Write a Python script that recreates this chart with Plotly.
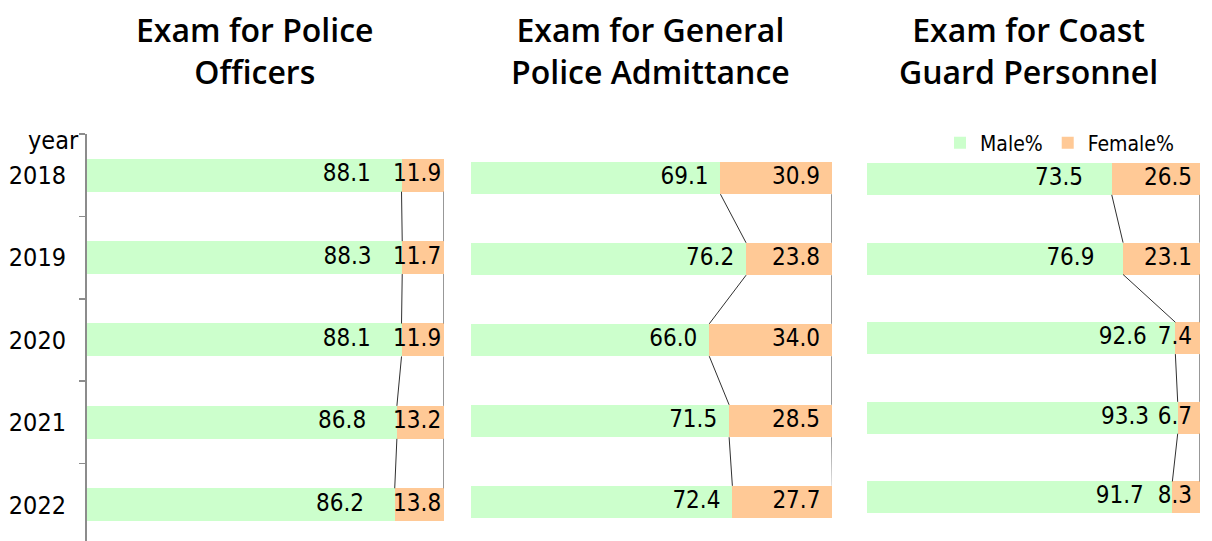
import plotly.graph_objects as go

years = ["2018", "2019", "2020", "2021", "2022"]
panel_titles = ["Exam for Police<br>Officers",
                "Exam for General<br>Police Admittance",
                "Exam for Coast<br>Guard Personnel"]
police_male = [88.1, 88.3, 88.1, 86.8, 86.2]
police_female = [11.9, 11.7, 11.9, 13.2, 13.8]
general_male = [69.1, 76.2, 66.0, 71.5, 72.4]
general_female = [30.9, 23.8, 34.0, 28.5, 27.7]
coast_male = [73.5, 76.9, 92.6, 93.3, 91.7]
coast_female = [26.5, 23.1, 7.4, 6.7, 8.3]

GREEN = "#CCFFCC"
ORANGE = "#FFC996"
LFONT = "Liberation Sans Narrow, Noto Sans Condensed, DejaVu Sans Condensed, sans-serif"
TFONT = "Open Sans, Noto Sans, sans-serif"
W, H = 1212, 541

panels = [
    dict(male=police_male, female=police_female, xdom=[87 / W, 444 / W],
         yrange=[4.44, -0.5], moff=8.6, foff=0.8, tx=255 / W),
    dict(male=general_male, female=general_female, xdom=[471 / W, 832 / W],
         yrange=[4.481, -0.543], moff=3.3, foff=3.3, tx=650 / W),
    dict(male=coast_male, female=coast_female, xdom=[867 / W, 1200 / W],
         yrange=[4.548, -0.565], moff=8.6, foff=2.4, tx=1028 / W),
]

ypos = list(range(len(years)))
BW = 0.4
fig = go.Figure()
layout_axes = {}
for k, p in enumerate(panels):
    sfx = "" if k == 0 else str(k + 1)
    xa, ya = "x" + sfx, "y" + sfx
    fig.add_trace(go.Bar(
        y=ypos, x=p["male"], orientation="h", name="Male%", marker_color=GREEN,
        marker_line_width=0, width=BW, xaxis=xa, yaxis=ya,
        showlegend=(k == 2), legendrank=1, hoverinfo="skip"))
    fig.add_trace(go.Bar(
        y=ypos, x=p["female"], orientation="h", name="Female%", marker_color=ORANGE,
        marker_line_width=0, width=BW, xaxis=xa, yaxis=ya,
        showlegend=(k == 2), legendrank=2, hoverinfo="skip"))
    totals = [m + f for m, f in zip(p["male"], p["female"])]
    # series connector lines
    lx, ly = [], []
    for i in range(len(years) - 1):
        lx += [p["male"][i], p["male"][i + 1], None, totals[i], totals[i + 1], None]
        ly += [i + BW / 2, i + 1 - BW / 2, None, i + BW / 2, i + 1 - BW / 2, None]
    fig.add_trace(go.Scatter(x=lx, y=ly, mode="lines", xaxis=xa, yaxis=ya,
                             line=dict(color="#303030", width=1), showlegend=False,
                             hoverinfo="skip"))
    # data labels (inside end of each segment)
    fig.add_trace(go.Scatter(
        x=[m - p["moff"] for m in p["male"]], y=ypos, mode="text",
        text=[f"{m:.1f}" for m in p["male"]], textposition="middle left",
        textfont=dict(family=LFONT, size=24, color="black"), xaxis=xa, yaxis=ya,
        showlegend=False, hoverinfo="skip", cliponaxis=False))
    fig.add_trace(go.Scatter(
        x=[t - p["foff"] for t in totals], y=ypos, mode="text",
        text=[f"{f:.1f}" for f in p["female"]], textposition="middle left",
        textfont=dict(family=LFONT, size=24, color="black"), xaxis=xa, yaxis=ya,
        showlegend=False, hoverinfo="skip", cliponaxis=False))
    layout_axes["xaxis" + sfx] = dict(domain=p["xdom"], range=[0, 100], visible=False,
                                      anchor=ya, fixedrange=True)
    yax = dict(domain=[0, (H - 134) / H], range=p["yrange"], anchor=xa,
               showgrid=False, zeroline=False, fixedrange=True)
    if k == 0:
        yax.update(tickvals=ypos, ticktext=years, ticks="", showline=True,
                   linecolor="#8c8c8c", linewidth=2,
                   tickfont=dict(family=LFONT, size=25, color="black"),
                   ticklabelstandoff=14,
                   minor=dict(tickvals=[-0.5, 0.5, 1.5, 2.5, 3.5, 4.5], ticks="outside",
                              ticklen=6, tickwidth=1.5, tickcolor="#8c8c8c",
                              showgrid=False))
    else:
        yax.update(visible=False)
    layout_axes["yaxis" + sfx] = yax

annotations = [dict(text=t, x=p["tx"], y=1 - 50 / H, xref="paper", yref="paper",
                    xanchor="center", yanchor="middle", showarrow=False,
                    font=dict(family=TFONT, size=32, color="black", weight=600))
               for t, p in zip(panel_titles, panels)]
annotations.append(dict(text="year", x=81 / W, y=1 - 141 / H, xref="paper",
                        yref="paper", xanchor="right", yanchor="middle", showarrow=False,
                        font=dict(family=LFONT, size=25, color="black")))

fig.update_layout(
    width=W, height=H, margin=dict(l=0, r=0, t=0, b=0),
    paper_bgcolor="white", plot_bgcolor="white", barmode="stack", bargap=0,
    legend=dict(orientation="h", x=940 / W, y=1 - 143 / H, xanchor="left",
                yanchor="middle", font=dict(family=LFONT, size=21, color="black"),
                itemwidth=30, traceorder="normal", bgcolor="rgba(0,0,0,0)"),
    annotations=annotations,
    **layout_axes,
)
fig.write_html("out.html", include_plotlyjs=True,
               config={"displayModeBar": False, "staticPlot": True},
               post_script="document.body.style.margin='0';document.body.style.overflow='hidden';")
